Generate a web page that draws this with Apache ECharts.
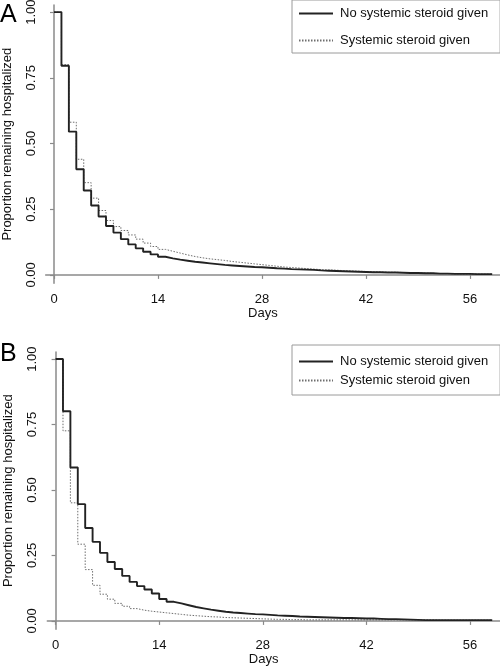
<!DOCTYPE html>
<html>
<head>
<meta charset="utf-8">
<script src="https://cdn.jsdelivr.net/npm/echarts@6/dist/echarts.min.js"></script>
<style>
html,body{margin:0;padding:0;background:#fff;}
#c{width:500px;height:667px;}
</style>
</head>
<body>
<div id="c"></div>
<script>
// ---- data ----
var days = [0,1,2,3,4,5,6,7,8,9,10,11,12,13,14,15,16,17,18,19,20,21,22,23,24,25,26,27,28,29,30,31,32,33,34,35,36,37,38,39,40,41,42,43,44,45,46,47,48,49,50,51,52,53,54,55,56,57,58];
var lastDay = 59;
var seriesNames = ["No systemic steroid given", "Systemic steroid given"];
var xTicks = [0, 14, 28, 42, 56];
var yTicks = [0, 0.25, 0.5, 0.75, 1];

// Panel A
var aNoSteroid = [1.000,0.796,0.545,0.402,0.321,0.264,0.222,0.186,0.161,0.136,0.116,0.101,0.088,0.078,0.069,0.063,0.058,0.054,0.050,0.047,0.044,0.041,0.038,0.036,0.034,0.032,0.030,0.029,0.027,0.025,0.024,0.022,0.021,0.020,0.019,0.017,0.016,0.015,0.014,0.013,0.012,0.011,0.010,0.010,0.009,0.009,0.008,0.007,0.007,0.006,0.006,0.005,0.005,0.004,0.004,0.004,0.003,0.003,0.003];
var aSteroid = [1.000,0.800,0.581,0.440,0.351,0.292,0.245,0.207,0.184,0.169,0.152,0.136,0.121,0.108,0.097,0.090,0.083,0.076,0.070,0.065,0.061,0.058,0.055,0.051,0.048,0.045,0.042,0.039,0.036,0.033,0.030,0.028,0.026,0.024,0.022,0.020,0.019,0.018,0.016,0.015,0.014,0.013,0.012,0.011,0.010,0.010,0.009,0.008,0.007,0.007,0.006,0.005,0.005,0.004,0.003,0.003,0.003,0.003,0.003];
// Panel B
var bNoSteroid = [1.000,0.801,0.586,0.446,0.355,0.302,0.260,0.225,0.198,0.172,0.149,0.133,0.120,0.105,0.084,0.073,0.067,0.060,0.053,0.048,0.043,0.039,0.035,0.032,0.030,0.028,0.026,0.025,0.023,0.021,0.020,0.019,0.017,0.016,0.015,0.014,0.013,0.012,0.011,0.011,0.010,0.009,0.009,0.008,0.007,0.007,0.006,0.005,0.004,0.003,0.003,0.003,0.003,0.003,0.003,0.003,0.003,0.003,0.003];
var bSteroid = [1.000,0.726,0.451,0.293,0.196,0.136,0.102,0.083,0.067,0.056,0.047,0.041,0.037,0.034,0.031,0.028,0.025,0.022,0.020,0.018,0.016,0.015,0.013,0.012,0.011,0.010,0.009,0.008,0.007,0.006,0.006,0.005,0.005,0.004,0.004,0.004,0.004,0.004,0.004,0.004,0.004,0.004,0.004,0.004,0.004,0.004,0.004,0.004,0.004,0.004,0.004,0.003,0.003,0.003,0.003,0.003,0.003,0.003,0.003];

function pts(vals){
  var out = days.map(function(d,i){ return [d, vals[i]]; });
  out.push([lastDay, vals[vals.length-1]]);
  return out;
}

var FONT = '"Liberation Sans", Arial, sans-serif';
var AXIS_COLOR = '#8a8a8a';
var TEXT_COLOR = '#111';

function xAxisCfg(gi){
  return {
    type:'value', gridIndex:gi, min:-1.12, max:60.05,
    name:'Days', nameLocation:'middle', nameGap:24,
    nameTextStyle:{fontFamily:FONT, fontSize:13, color:TEXT_COLOR, padding:[0,20,0,0]},
    axisLine:{show:true, lineStyle:{color:AXIS_COLOR, width:1.5}},
    axisTick:{show:true, length:4, lineStyle:{color:AXIS_COLOR, width:1.2}, customValues:xTicks},
    axisLabel:{fontFamily:FONT, fontSize:13, color:TEXT_COLOR, margin:10, customValues:xTicks},
    splitLine:{show:false}
  };
}
function yAxisCfg(gi){
  return {
    type:'value', gridIndex:gi, min:-0.032, max:1.027,
    name:'Proportion remaining hospitalized', nameLocation:'middle', nameGap:32, nameRotate:90,
    nameTextStyle:{fontFamily:FONT, fontSize:13, color:TEXT_COLOR},
    axisLine:{show:true, lineStyle:{color:AXIS_COLOR, width:1.5}},
    axisTick:{show:true, length:4, lineStyle:{color:AXIS_COLOR, width:1.2}, customValues:yTicks},
    axisLabel:{fontFamily:FONT, fontSize:13, color:TEXT_COLOR, margin:8, rotate:90,
      customValues:yTicks, formatter:function(v){ return v.toFixed(2); }},
    splitLine:{show:false}
  };
}
var solidStyle = {color:'#222', width:1.9, type:'solid'};
var dotStyle = {color:'#6e6e6e', width:1, type:[1.5,1.5]};

function lineSeries(name, vals, xi, yi, style, z){
  return {
    type:'line', name:name, xAxisIndex:xi, yAxisIndex:yi, step:'end',
    data:pts(vals), showSymbol:false, symbol:'none', z:z,
    lineStyle:style, itemStyle:{color:style.color}, emphasis:{disabled:true}
  };
}
function legendCfg(top, gap, pad){
  return {
    orient:'vertical', left:292, top:top, width:200,
    itemWidth:34, itemHeight:10, itemGap:gap,
    padding:pad,
    borderColor:'#9a9a9a', borderWidth:1, borderRadius:0,
    itemStyle:{opacity:0},
    textStyle:{fontFamily:FONT, fontSize:13, color:TEXT_COLOR, padding:[0,0,0,2]},
    selectedMode:false,
    data:seriesNames
  };
}

var chart = echarts.init(document.getElementById('c'), null, {renderer:'canvas'});
chart.setOption({
  animation:false,
  backgroundColor:'#fff',
  grid:[
    {left:45.7, top:5, width:454.3, height:278.3, containLabel:false, outerBoundsMode:'none'},
    {left:47.3, top:352, width:452.7, height:277.3, containLabel:false, outerBoundsMode:'none'}
  ],
  xAxis:[xAxisCfg(0), xAxisCfg(1)],
  yAxis:[yAxisCfg(0), yAxisCfg(1)],
  legend:[
    legendCfg(0, 14, [7,12,6,6]),
    legendCfg(345, 6, [10,12,8,6])
  ],
  series:[
    lineSeries(seriesNames[1], aSteroid, 0, 0, dotStyle, 2),
    lineSeries(seriesNames[0], aNoSteroid, 0, 0, solidStyle, 3),
    lineSeries(seriesNames[1], bSteroid, 1, 1, dotStyle, 2),
    lineSeries(seriesNames[0], bNoSteroid, 1, 1, solidStyle, 3)
  ],
  graphic:[
    {type:'text', left:0, top:3, style:{text:'A', font:'25px "Liberation Sans", Arial, sans-serif', fill:'#000'}},
    {type:'text', left:0, top:342, style:{text:'B', font:'25px "Liberation Sans", Arial, sans-serif', fill:'#000'}}
  ]
});
</script>
</body>
</html>
